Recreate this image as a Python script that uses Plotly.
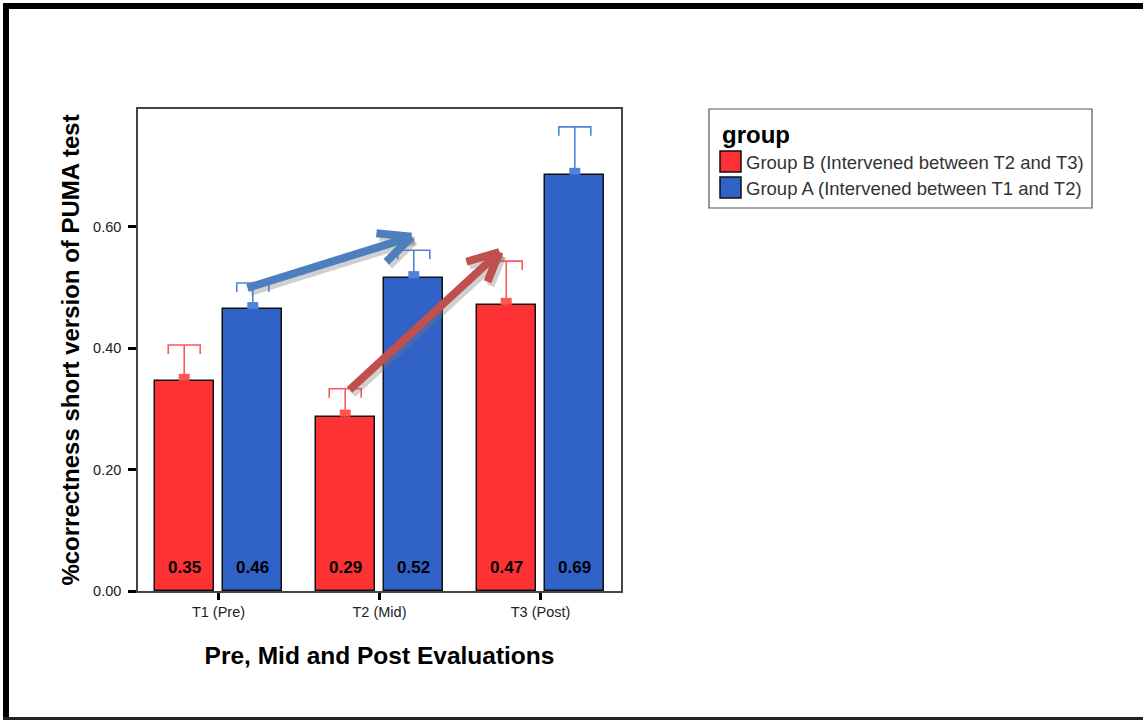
import plotly.graph_objects as go

# ---- data -------------------------------------------------------------
categories = ["T1 (Pre)", "T2 (Mid)", "T3 (Post)"]
group_b_mean = [0.346, 0.287, 0.471]   # Group B (intervened between T2 and T3)
group_a_mean = [0.464, 0.515, 0.685]   # Group A (intervened between T1 and T2)
group_b_err = [0.059, 0.046, 0.072]    # upper error (SE)
group_a_err = [0.043, 0.046, 0.079]
y_ticks = [0.0, 0.2, 0.4, 0.6]
legend_title = "group"
legend_labels = ["Group B (Intervened between T2 and T3)",
                 "Group A (Intervened between T1 and T2)"]

# ---- styling ----------------------------------------------------------
RED, BLUE = "#fe3134", "#3062c8"
RED_ERR, BLUE_ERR = "#ff5656", "#4f82da"
ARROW_BLUE, ARROW_RED = "#4d7fbc", "#c0504d"
FONT = "Liberation Sans, Arial, sans-serif"

W, H = 1143, 720
ML, MR, MT, MB = 138, 522, 109, 129
PW, PH = W - ML - MR, H - MT - MB
Y_MAX = 0.7934
X_RANGE = [-0.5, 2.5]
OFFSET, BAR_W = 0.213, 0.365

def px_x(px):  # pixel -> paper x
    return (px - ML) / PW

def px_y(py):  # pixel -> paper y
    return (H - MB - py) / PH

XU = PW / (X_RANGE[1] - X_RANGE[0])   # pixels per x data unit
YU = PH / Y_MAX                       # pixels per y data unit

fig = go.Figure()

series = [
    (group_b_mean, group_b_err, RED, RED_ERR, -OFFSET),
    (group_a_mean, group_a_err, BLUE, BLUE_ERR, OFFSET),
]

for means, errs, fill, ecol, off in series:
    xs = [i + off for i in range(len(categories))]
    fig.add_trace(go.Bar(
        x=xs, y=means, width=BAR_W,
        marker=dict(color=fill, line=dict(color="#111", width=1.5)),
        showlegend=False, hoverinfo="skip",
    ))
    # error bar: stem, cap and short down-turned hooks
    ex, ey = [], []
    hw, hook = 16 / XU, 9 / YU
    for x, m, e in zip(xs, means, errs):
        top = m + e
        ex += [x, x, None, x - hw, x - hw, x + hw, x + hw, None]
        ey += [m, top, None, top - hook, top, top, top - hook, None]
    fig.add_trace(go.Scatter(x=ex, y=ey, mode="lines",
                             line=dict(color=ecol, width=1.6),
                             showlegend=False, hoverinfo="skip"))
    # small block marking the mean at the top of each bar
    bx, by = [], []
    for x, m in zip(xs, means):
        bx += [x, x, None]
        by += [m, m + 7 / YU, None]
    fig.add_trace(go.Scatter(x=bx, y=by, mode="lines",
                             line=dict(color=ecol, width=11),
                             showlegend=False, hoverinfo="skip"))

annotations = []
# value labels near the bar bases
for means, errs, fill, ecol, off in series:
    for i, m in enumerate(means):
        annotations.append(dict(
            x=i + off, y=0, yshift=24, text=f"<b>{m:.2f}</b>", showarrow=False,
            font=dict(family=FONT, size=17, color="#000"),
            xref="x", yref="y", yanchor="middle",
        ))

# ---- trend arrows ------------------------------------------------------
def arrow_shapes(tail, tip, arm1, arm2, color, width=8):
    out = []
    sx, sy = 3 / XU, -4 / YU
    segs = [(tail, tip), (arm1, tip), (arm2, tip)]
    for (a, b) in segs:
        out.append(dict(type="line", xref="x", yref="y",
                        x0=a[0] + sx, y0=a[1] + sy, x1=b[0] + sx, y1=b[1] + sy,
                        line=dict(color="rgba(120,120,120,0.35)", width=width),
                        layer="above"))
    for (a, b) in segs:
        out.append(dict(type="line", xref="x", yref="y",
                        x0=a[0], y0=a[1], x1=b[0], y1=b[1],
                        line=dict(color=color, width=width), layer="above"))
    return out

shapes = []
shapes += arrow_shapes((0.180, 0.499), (1.199, 0.583),
                       (0.981, 0.589), (1.043, 0.542), ARROW_BLUE)
shapes += arrow_shapes((0.814, 0.331), (1.745, 0.558),
                       (1.540, 0.542), (1.671, 0.509), ARROW_RED)

# ---- legend box --------------------------------------------------------
shapes.append(dict(type="rect", xref="paper", yref="paper",
                   x0=px_x(709), x1=px_x(1092), y0=px_y(208), y1=px_y(109),
                   line=dict(color="#555", width=1.2), fillcolor="white"))
annotations.append(dict(xref="paper", yref="paper", x=px_x(720), y=px_y(134),
                        text=f"<b>{legend_title}</b>", showarrow=False,
                        xanchor="left", yanchor="middle",
                        font=dict(family=FONT, size=24, color="#000")))
for k, (lab, col) in enumerate(zip(legend_labels, [RED, BLUE])):
    top = 151 + k * 26
    shapes.append(dict(type="rect", xref="paper", yref="paper",
                       x0=px_x(720), x1=px_x(741),
                       y0=px_y(top + 21), y1=px_y(top),
                       line=dict(color="#111", width=1.5), fillcolor=col))
    annotations.append(dict(xref="paper", yref="paper", x=px_x(744),
                            y=px_y(top + 11), text=lab, showarrow=False,
                            xanchor="left", yanchor="middle",
                            font=dict(family=FONT, size=18.5, color="#333")))

# ---- outer frame -------------------------------------------------------
shapes += [
    dict(type="line", xref="paper", yref="paper",
         x0=px_x(6), x1=px_x(6), y0=px_y(3), y1=px_y(720),
         line=dict(color="#000", width=6)),
    dict(type="line", xref="paper", yref="paper",
         x0=px_x(3), x1=px_x(1150), y0=px_y(6), y1=px_y(6),
         line=dict(color="#000", width=6)),
    dict(type="line", xref="paper", yref="paper",
         x0=px_x(3), x1=px_x(1150), y0=px_y(718.5), y1=px_y(718.5),
         line=dict(color="#222", width=3)),
]

fig.update_layout(
    width=W, height=H,
    margin=dict(l=ML, r=MR, t=MT, b=MB),
    paper_bgcolor="white", plot_bgcolor="white",
    bargap=0, showlegend=False,
    shapes=shapes, annotations=annotations,
    font=dict(family=FONT, color="#222"),
)
fig.update_xaxes(
    range=X_RANGE, tickvals=list(range(len(categories))), ticktext=categories,
    showgrid=False, zeroline=False, showline=True, mirror=True,
    linecolor="#444", linewidth=1.5,
    ticks="outside", ticklen=7, tickwidth=2.5, tickcolor="#000",
    tickfont=dict(family=FONT, size=14.5, color="#222"),
    title=dict(text="<b>Pre, Mid and Post Evaluations</b>", standoff=28,
               font=dict(family=FONT, size=24.5, color="#000")),
)
fig.update_yaxes(
    range=[0, Y_MAX], tickvals=y_ticks, tickformat=".2f",
    showgrid=False, zeroline=False, showline=True, mirror=True,
    linecolor="#444", linewidth=1.5,
    ticks="outside", ticklen=8, tickwidth=2.5, tickcolor="#000",
    tickfont=dict(family=FONT, size=14.5, color="#222"),
    ticklabelstandoff=4,
    title=dict(text="<b>%correctness short version of PUMA test</b>", standoff=7,
               font=dict(family=FONT, size=24, color="#000")),
)

fig.write_html("out.html")
